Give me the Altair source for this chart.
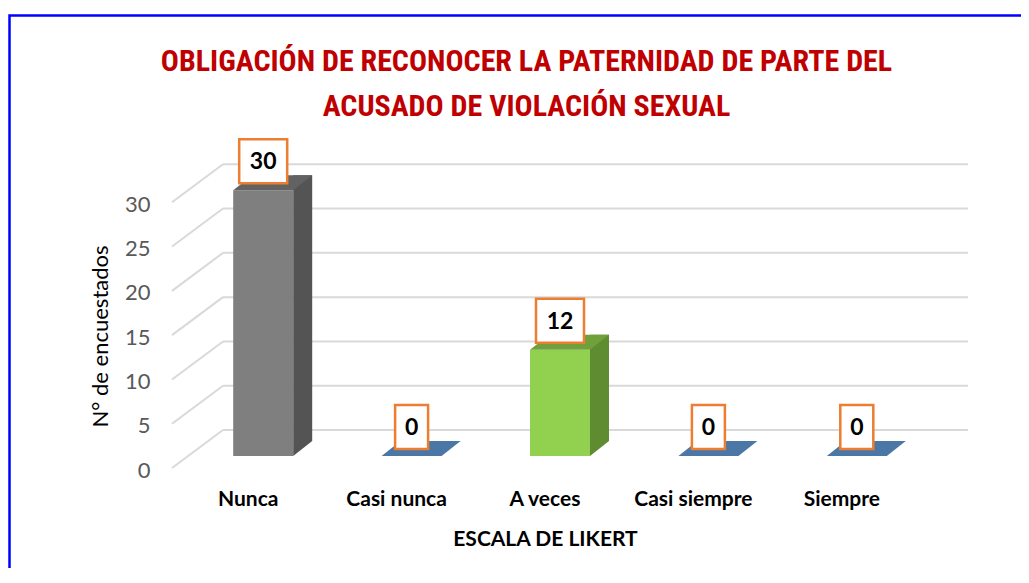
import altair as alt
import pandas as pd

# ---------------- data ----------------
categories = ["Nunca", "Casi nunca", "A veces", "Casi siempre", "Siempre"]
counts = [30, 0, 12, 0, 0]
y_ticks = [0, 5, 10, 15, 20, 25, 30]

title_line1 = "OBLIGACIÓN DE RECONOCER LA PATERNIDAD DE PARTE DEL"
title_line2 = "ACUSADO DE VIOLACIÓN SEXUAL"
x_title = "ESCALA DE LIKERT"
y_title = "N° de encuestados"

front_colors = ["#7F7F7F", "#4A77A5", "#92D050", "#4A77A5", "#4A77A5"]
side_colors = ["#545454", "#3A5F86", "#5F8B31", "#3A5F86", "#3A5F86"]
top_colors = ["#626262", "#4A77A5", "#6FA03C", "#4A77A5", "#4A77A5"]

# ---------------- layout constants ----------------
PLOT_W, PLOT_H = 742, 310
Y_MAX = 35
SHIFT = 15          # bars sit behind the category labels
HALF = 30           # half bar width
DX, DY = 19, -15    # 3-D depth
BACK = -26          # back wall offset
FRONT = 12          # front edge offset of the side wall lines
LABEL_FONT = "Lato, Carlito, Calibri, sans-serif"
TITLE_FONT = "Roboto Condensed, DejaVu Sans Condensed, sans-serif"

df = pd.DataFrame({"cat": categories, "n": counts})
df["label"] = df["n"].astype(str)
grid_df = pd.DataFrame({"v": y_ticks})
one = pd.DataFrame({"k": [0]})

x_axis = alt.Axis(
    labelAngle=0, labelFont=LABEL_FONT, labelFontSize=21, labelFontWeight="bold",
    labelColor="#000000", ticks=False, tickSize=0, domain=False, labelPadding=32,
    title=x_title, titleFont=LABEL_FONT, titleFontSize=21, titleFontWeight="bold",
    titleColor="#000000", titleBaseline="top", titleY=72,
)
y_axis = alt.Axis(
    values=y_ticks, labelFont=LABEL_FONT, labelFontSize=22, labelColor="#595959",
    ticks=False, tickSize=0, domain=False, grid=False, labelPadding=24, labelOffset=14,
    title=y_title, titleFont=LABEL_FONT, titleFontSize=22, titleFontWeight="normal",
    titleColor="#000000", titleAngle=270, titleX=-74, titleY=190,
    titleAlign="center", titleBaseline="middle",
)
x_scale = alt.Scale(domain=categories, paddingInner=0, paddingOuter=0)
y_scale = alt.Scale(domain=[0, Y_MAX], nice=False, zero=True)

X = alt.X("cat:N", sort=categories, scale=x_scale, axis=x_axis)
Yn = alt.Y("n:Q", scale=y_scale, axis=y_axis)
Yv = alt.Y("v:Q", scale=y_scale, axis=y_axis)

base = alt.Chart(df)

# blue frame
frame = alt.Chart(one).mark_rect(fillOpacity=0, stroke="#0000FF", strokeWidth=2.5).encode(
    x=alt.value(-164.5), x2=alt.value(880), y=alt.value(-130.5), y2=alt.value(460)
)

# back wall gridlines and side wall diagonals
back_grid = alt.Chart(grid_df).mark_rule(color="#D9D9D9", strokeWidth=2, yOffset=BACK).encode(
    x=alt.value(49), x2=alt.value(794), y=Yv
)
side_grid = alt.Chart(grid_df).mark_rule(
    color="#D9D9D9", strokeWidth=2, yOffset=FRONT, y2Offset=BACK
).encode(x=alt.value(-2), x2=alt.value(49), y=Yv, y2="v:Q")

pos = base.transform_filter("datum.n > 0")

side = pos.mark_bar(size=DX, xOffset=SHIFT + HALF + DX / 2, yOffset=DY, y2Offset=DY).encode(
    x=X, y=Yn, y2=alt.datum(0),
    color=alt.Color("cat:N", scale=alt.Scale(domain=categories, range=side_colors), legend=None),
)
bottom_tri = pos.transform_calculate(z="0").mark_point(
    shape=f"M{HALF},0 L{HALF + DX},{DY} L{HALF},{DY} Z", size=4, filled=True, opacity=1, xOffset=SHIFT
).encode(
    x=X, y=alt.Y("z:Q", scale=y_scale, axis=y_axis),
    color=alt.Color("cat:N", scale=alt.Scale(domain=categories, range=side_colors), legend=None),
)
front = pos.mark_bar(size=2 * HALF, xOffset=SHIFT).encode(
    x=X, y=Yn, y2=alt.datum(0),
    color=alt.Color("cat:N", scale=alt.Scale(domain=categories, range=front_colors), legend=None),
)
top = base.mark_point(
    shape=f"M{-HALF},0 L{HALF},0 L{HALF + DX},{DY} L{-HALF + DX},{DY} Z",
    size=4, filled=True, opacity=1, xOffset=SHIFT,
).encode(
    x=X, y=Yn,
    color=alt.Color("cat:N", scale=alt.Scale(domain=categories, range=top_colors), legend=None),
)

box2 = base.transform_filter("datum.n >= 10").mark_point(
    shape="M-24,-22 L24,-22 L24,22 L-24,22 Z", size=4, filled=True, fill="#FFFFFF",
    stroke="#ED7D31", strokeWidth=2.5, opacity=1, xOffset=SHIFT, yOffset=-29,
).encode(x=X, y=Yn)
box1 = base.transform_filter("datum.n < 10").mark_point(
    shape="M-16.5,-22 L16.5,-22 L16.5,22 L-16.5,22 Z", size=4, filled=True, fill="#FFFFFF",
    stroke="#ED7D31", strokeWidth=2.5, opacity=1, xOffset=SHIFT, yOffset=-29,
).encode(x=X, y=Yn)
labels = base.mark_text(
    font=LABEL_FONT, fontSize=23, fontWeight="bold", color="#000000",
    xOffset=SHIFT, yOffset=-28, baseline="middle", align="center",
).encode(x=X, y=Yn, text="label:N")

t1 = alt.Chart(pd.DataFrame({"t": [title_line1]})).mark_text(
    font=TITLE_FONT, fontSize=30, fontWeight="bold", color="#C00000",
    align="center", baseline="alphabetic",
).encode(x=alt.value(352.5), y=alt.value(-75), text="t:N")
t2 = alt.Chart(pd.DataFrame({"t": [title_line2]})).mark_text(
    font=TITLE_FONT, fontSize=30, fontWeight="bold", color="#C00000",
    align="center", baseline="alphabetic",
).encode(x=alt.value(352.5), y=alt.value(-30), text="t:N")

chart = alt.layer(
    frame, back_grid, side_grid, side, bottom_tri, front, top, box2, box1, labels, t1, t2
).resolve_scale(color="independent").properties(
    width=PLOT_W, height=PLOT_H,
    autosize=alt.AutoSizeParams(type="none"),
    padding={"left": 166, "top": 138, "right": 105, "bottom": 112},
    background="#FFFFFF",
).configure_view(stroke=None)

chart.save("out.html", embed_options={"renderer": "svg", "actions": False})
